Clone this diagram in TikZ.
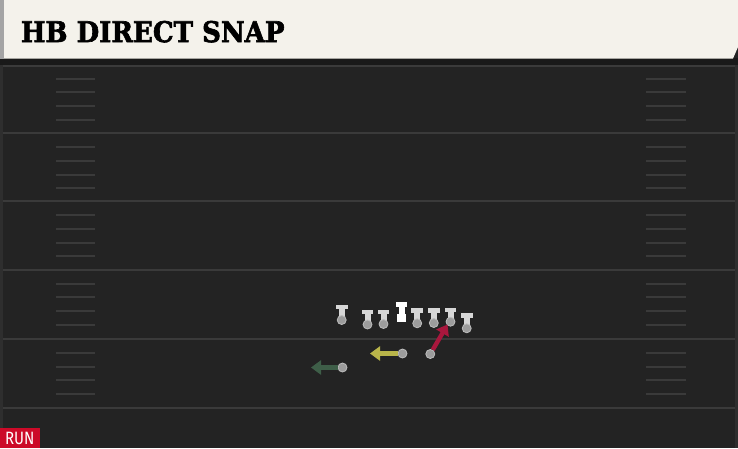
\documentclass[tikz,border=0pt]{standalone}
\usepackage{fontspec}
\usetikzlibrary{arrows.meta}
\newfontfamily\titlefont{DejaVu Serif}[BoldFeatures={FakeBold=2.2}]
\newfontfamily\tagfont{Fira Sans}
\definecolor{field}{HTML}{232323}
\definecolor{yardline}{HTML}{3A3A3A}
\definecolor{hashc}{HTML}{3A3A3A}
\definecolor{cream}{HTML}{F4F2EB}
\definecolor{edgegray}{HTML}{A4A4A4}
\definecolor{shadowband}{HTML}{191919}
\definecolor{sidestrip}{HTML}{2E2E2E}
\definecolor{runred}{HTML}{CC0A28}
\definecolor{tlight}{HTML}{D6D6D6}
\definecolor{pgray}{HTML}{9C9C9C}
\definecolor{pring}{HTML}{BDBDBD}
\definecolor{ylw}{HTML}{B9B54A}
\definecolor{grn}{HTML}{3E5E48}
\definecolor{crim}{HTML}{A8173D}
\tikzset{
  yardstyle/.style={draw=yardline, line width=2pt},
  hashstyle/.style={draw=hashc, line width=2pt},
  player/.style={circle, fill=pgray, draw=pring, line width=0.8pt, minimum size=9pt, inner sep=0pt},
  tshape/.style={fill=tlight},
  route/.style={line width=4.4pt, -{Triangle[width=14pt,length=10pt]}},
}
\newcommand\olman[4]{% name, x, bar top, circle y
  \fill[tshape] (#2-5.8,#3) rectangle (#2+5.8,#3+4.4);
  \fill[tshape] (#2-3,#3+4) rectangle (#2+3,#4);
  \node[player] (#1) at (#2,#4) {};
}
\begin{document}
\begin{tikzpicture}[x=1pt,y=-1pt]
\useasboundingbox (0,0) rectangle (738,448);
% field
\fill[field] (0,0) rectangle (738,448);
\fill[shadowband] (0,58) rectangle (738,65);
\fill[sidestrip] (0,65) rectangle (3,448);
\fill[sidestrip] (735,65) rectangle (738,448);
% yard lines
\foreach \yy in {66,133,201,270,339,408}{
  \draw[yardstyle] (3,\yy) -- (735,\yy);
}
% hash marks
\foreach \yy in {79,92,106,120,147,161,175,188,215,229,243,256,284,297,311,325,353,367,380,394}{
  \draw[hashstyle] (56,\yy) -- (95,\yy);
  \draw[hashstyle] (646,\yy) -- (686,\yy);
}
% header
\fill[cream] (0,0) -- (738,0) -- (738,47) -- (733,58.5) -- (0,58.5) -- cycle;
\fill[edgegray] (0,0) rectangle (4,58.5);
\node[inner sep=0pt, anchor=south west] (title) at (20.7,42.7)
  {\resizebox{263.6pt}{21.2pt}{\titlefont\bfseries HB DIRECT SNAP}};
% run tag
\fill[runred] (0,427.5) rectangle (40,448);
\node[inner sep=0pt, anchor=south west, text=white] (runtag) at (5,445)
  {\resizebox{29.3pt}{12.3pt}{\tagfont RUN}};
% offensive line
\olman{p1}{341.7}{305}{320}
\olman{p2}{367.5}{310}{324.5}
\olman{p3}{383.5}{310}{324}
\olman{p5}{417.2}{308.3}{323.3}
\olman{p6}{433.8}{308.3}{323}
\olman{p7}{450.5}{307.7}{321.7}
\olman{p8}{466.7}{313.3}{328.3}
% center
\fill[white] (396,302.3) rectangle (407.4,306.5);
\fill[white] (398.9,306) rectangle (404.5,315);
\node[fill=white, minimum size=8.5pt, inner sep=0pt] (ctr) at (401.7,318.2) {};
% backfield
\coordinate (ytip) at (370,353.5);
\coordinate (gtip) at (311,367.5);
\coordinate (rtip) at (447.5,324.5);
\node[player] (yb) at (402.5,353.5) {};
\node[player] (gb) at (342.5,367.5) {};
\node[player] (rb) at (430.3,354) {};
\draw[route, draw=ylw, fill=ylw] (yb) -- (ytip);
\draw[route, draw=grn, fill=grn] (gb) -- (gtip);
\draw[route, draw=crim, fill=crim] (rb) -- (rtip);
\end{tikzpicture}
\end{document}
